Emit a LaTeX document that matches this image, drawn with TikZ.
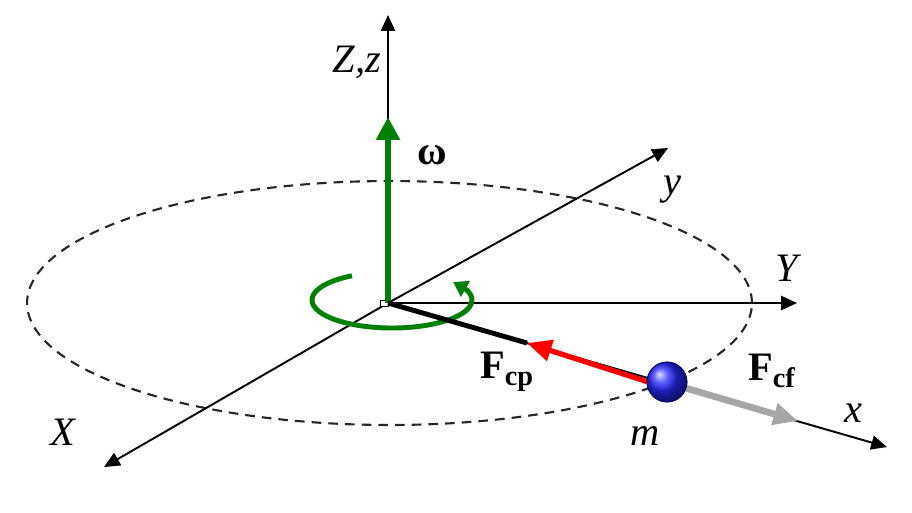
\documentclass[tikz,border=0pt]{standalone}
\usepackage{fontspec}
\setmainfont{Liberation Serif}
\usetikzlibrary{arrows.meta,bending}
\begin{document}
\begin{tikzpicture}[x=0.02cm,y=-0.02cm,
    axis/.style={line width=1.1pt,-{Triangle[length=9pt,width=8pt]}},
    lbl/.style={font=\fontsize{23}{25}\selectfont\itshape},
    flbl/.style={font=\fontsize{23}{25}\selectfont\bfseries},
    vec/.style={line width=3pt,-{Triangle[length=14pt,width=12pt]}}]
  \useasboundingbox (0,0) rectangle (912,512);
  \coordinate (O) at (388,303);
  \coordinate (Zend) at (388,15);
  \coordinate (Yend) at (797,303);
  \coordinate (yend) at (668,148);
  \coordinate (Xend) at (104,467);
  \coordinate (xend) at (887,447);
  \coordinate (w) at (388,117);
  \coordinate (cp) at (527,343);
  \coordinate (cf) at (798,421);
  \coordinate (rc) at (392,300);
  \draw[line width=1.2pt,black!85,dash pattern=on 5.5pt off 4pt]
    (389.5,303) ellipse [x radius=7.25cm, y radius=2.44cm];
  \draw[axis] (O) -- (Zend);
  \draw[axis] (O) -- (Yend);
  \draw[axis] (O) -- (yend);
  \draw[axis] (O) -- (Xend);
  \draw[axis] (O) -- (xend);
  \draw[fill=white,line width=0.5pt] (380,300) rectangle (388,306);
  \draw[green!50!black,line width=3.3pt,-{Triangle[length=13pt,width=13pt]}] (O) -- (w);
  \draw[green!50!black,line width=2.8pt,-{Triangle[length=8pt,width=10pt,flex]}]
    ([shift={(120:1.6cm and 0.56cm)}]rc) arc[start angle=120, end angle=400, x radius=1.6cm, y radius=0.56cm];
  \draw[line width=2.8pt] (O) -- (cp);
  \node[circle,ball color=blue!85!white,draw=blue!40!black,line width=0.4pt,
    inner sep=0pt,minimum size=0.8cm] (m) at (667,382) {};
  \draw[vec,red] (m.west) ++(8,2) coordinate (rs) -- (cp);
  \draw[vec,black!35,line width=3.8pt] (m) ++(15,5) coordinate (gs) -- (cf);
  \node[circle,ball color=blue!85!white,draw=blue!40!black,line width=0.4pt,
    inner sep=0pt,minimum size=0.8cm] at (m) {};
  \node[lbl] (Zl) at (357,62) {Z,z};
  \node[lbl] (Yl) at (787,268) {Y};
  \node[lbl] (yl) at (672,190) {y};
  \node[lbl] (Xl) at (63,432) {X};
  \node[lbl] (xl) at (853,413) {x};
  \node[lbl] (ml) at (645,436) {m};
  \node[flbl] (wl) at (432,155) {ω};
  \node[flbl] (Fcp) at (507,372) {F\textsubscript{cp}};
  \node[flbl] (Fcf) at (772,371) {F\textsubscript{cf}};
\end{tikzpicture}
\end{document}
